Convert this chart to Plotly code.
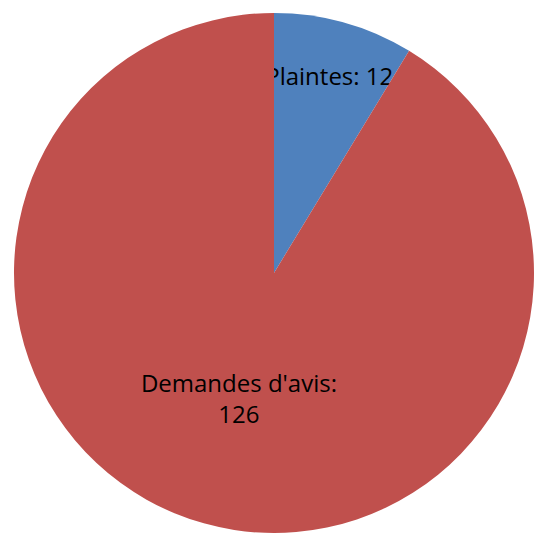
import plotly.graph_objects as go

# Répartition des saisines
categories = ["Plaintes", "Demandes d'avis"]
values = [12, 126]
colors = ["#4F81BD", "#C0504D"]

W, H = 534, 535
cx, cy, r = 274, 273, 260  # pixel centre / radius of the pie

fig = go.Figure(
    go.Pie(
        labels=categories,
        values=values,
        sort=False,
        direction="clockwise",
        rotation=0,
        marker=dict(colors=colors, line=dict(width=0)),
        texttemplate=["%{label}: %{value}", "%{label}:<br>%{value}"],
        textposition="inside",
        insidetextorientation="horizontal",
        textfont=dict(family="Open Sans, Calibri, sans-serif", size=24, color="black"),
        hoverinfo="label+value+percent",
        domain=dict(
            x=[max(0, (cx - r) / W), min(1, (cx + r) / W)],
            y=[max(0, 1 - (cy + r) / H), min(1, 1 - (cy - r) / H)],
        ),
        showlegend=False,
    )
)

fig.update_layout(
    width=W,
    height=H,
    margin=dict(l=0, r=0, t=0, b=0),
    paper_bgcolor="white",
    uniformtext=dict(minsize=24, mode="show"),
)

fig.write_html("out.html")
